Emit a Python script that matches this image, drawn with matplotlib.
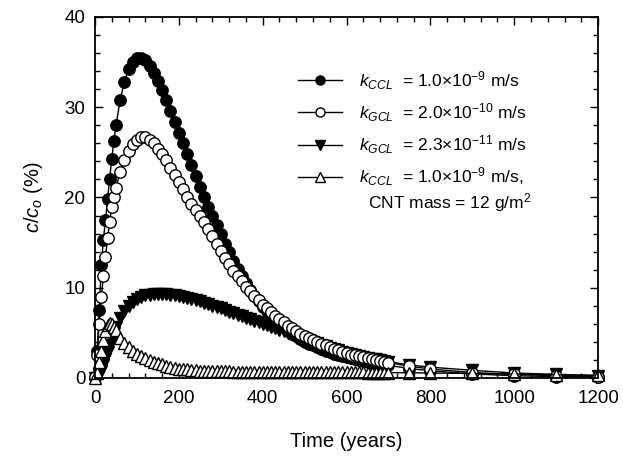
"""
Breakthrough curves c/co vs time for the three CCL/GCL cases and the CNT-amended CCL.
"""

import matplotlib
matplotlib.use("Agg")
import matplotlib.pyplot as plt
from matplotlib.ticker import MultipleLocator

plt.rcParams["font.family"] = ["Liberation Sans", "DejaVu Sans"]
plt.rcParams["mathtext.fontset"] = "custom"
plt.rcParams["mathtext.rm"] = "Liberation Sans"
plt.rcParams["mathtext.it"] = "Liberation Sans:italic"

# time (years)
time = [0, 5, 10, 15, 20, 25, 30, 35, 40, 45, 50,
        60, 70, 80, 90, 100, 110, 120, 130, 140, 150,
        160, 170, 180, 190, 200, 210, 220, 230, 240, 250,
        260, 270, 280, 290, 300, 310, 320, 330, 340, 350,
        360, 370, 380, 390, 400, 410, 420, 430, 440, 450,
        460, 470, 480, 490, 500, 510, 520, 530, 540, 550,
        560, 570, 580, 590, 600, 610, 620, 630, 640, 650,
        660, 670, 680, 690, 700, 750, 800, 900, 1000, 1100, 1200]

# k_CCL = 1.0e-9 m/s
ccl = [0.0, 3.0, 7.5, 12.5, 15.3, 17.5, 19.8, 22.1, 24.3, 26.3, 28.0,
       30.8, 32.8, 34.2, 35.0, 35.4, 35.5, 35.2, 34.6, 33.8, 32.9,
       31.9, 30.8, 29.6, 28.4, 27.2, 26.0, 24.8, 23.6, 22.4, 21.2,
       20.1, 19.0, 17.9, 16.9, 15.9, 14.9, 14.0, 13.0, 12.1, 11.3,
       10.5, 9.8, 9.1, 8.5, 7.9, 7.4, 6.9, 6.4, 6.0, 5.6,
       5.2, 4.9, 4.6, 4.3, 4.0, 3.8, 3.6, 3.4, 3.2, 3.0,
       2.85, 2.7, 2.55, 2.45, 2.35, 2.2, 2.1, 2.0, 1.9, 1.8,
       1.7, 1.6, 1.5, 1.45, 1.4, 1.05, 0.8, 0.45, 0.25, 0.15, 0.1]

# k_GCL = 2.0e-10 m/s
gcl_hi = [0.1, 2.5, 6.0, 9.0, 11.3, 13.4, 15.5, 17.3, 18.9, 20.1, 21.1,
          22.8, 24.2, 25.2, 25.9, 26.4, 26.7, 26.7, 26.4, 26.0, 25.4,
          24.8, 24.1, 23.3, 22.5, 21.7, 20.9, 20.1, 19.3, 18.6, 18.0,
          17.3, 16.5, 15.7, 14.9, 14.1, 13.3, 12.6, 11.9, 11.3, 10.7,
          10.1, 9.6, 9.1, 8.6, 8.1, 7.7, 7.3, 6.9, 6.5, 6.2,
          5.8, 5.5, 5.2, 4.9, 4.7, 4.4, 4.2, 4.0, 3.8, 3.6,
          3.4, 3.2, 3.1, 2.9, 2.8, 2.6, 2.5, 2.4, 2.3, 2.2,
          2.1, 2.0, 1.9, 1.8, 1.7, 1.3, 1.0, 0.6, 0.4, 0.25, 0.15]

# k_GCL = 2.3e-11 m/s
gcl_lo = [0.0, 0.05, 0.3, 0.8, 1.4, 2.1, 2.9, 3.6, 4.3, 5.0, 5.6,
          6.6, 7.4, 8.0, 8.4, 8.75, 9.0, 9.15, 9.25, 9.3, 9.3,
          9.3, 9.3, 9.25, 9.2, 9.1, 9.0, 8.9, 8.8, 8.65, 8.5,
          8.35, 8.2, 8.0, 7.85, 7.7, 7.5, 7.35, 7.2, 7.0, 6.85,
          6.7, 6.5, 6.35, 6.2, 6.0, 5.85, 5.7, 5.5, 5.35, 5.2,
          5.0, 4.85, 4.7, 4.5, 4.35, 4.2, 4.0, 3.85, 3.7, 3.5,
          3.35, 3.2, 3.05, 2.9, 2.8, 2.65, 2.55, 2.45, 2.35, 2.25,
          2.15, 2.05, 1.95, 1.9, 1.8, 1.45, 1.2, 0.85, 0.55, 0.4, 0.25]

# k_CCL = 1.0e-9 m/s with CNT mass = 12 g/m2
ccl_cnt = [0.0, 0.6, 1.8, 3.0, 4.2, 5.2, 5.9, 6.1, 6.0, 5.7, 5.3,
           4.4, 3.9, 3.4, 3.0, 2.7, 2.4, 2.2, 2.0, 1.8, 1.65,
           1.5, 1.35, 1.25, 1.15, 1.05, 1.0, 0.95, 0.9, 0.85, 0.8,
           0.78, 0.76, 0.75, 0.74, 0.73, 0.72, 0.72, 0.71, 0.71, 0.7,
           0.7, 0.7, 0.69, 0.69, 0.69, 0.68, 0.68, 0.68, 0.67, 0.67,
           0.67, 0.66, 0.66, 0.66, 0.65, 0.65, 0.65, 0.64, 0.64, 0.64,
           0.63, 0.63, 0.63, 0.62, 0.62, 0.62, 0.61, 0.61, 0.61, 0.6,
           0.6, 0.6, 0.6, 0.6, 0.6, 0.58, 0.55, 0.5, 0.45, 0.35, 0.3]

labels = [r"$k_{CCL}$  = 1.0×10$^{-9}$ m/s",
          r"$k_{GCL}$  = 2.0×10$^{-10}$ m/s",
          r"$k_{GCL}$  = 2.3×10$^{-11}$ m/s",
          r"$k_{CCL}$  = 1.0×10$^{-9}$ m/s,"]

fig = plt.figure(figsize=(6.23, 4.59), dpi=100)
ax = fig.add_axes([0.1525, 0.1765, 0.8075, 0.7865])

style = dict(color="black", lw=1.0, ms=8.2, mew=1.0, clip_on=False)
h3, = ax.plot(time, gcl_lo, marker="v", mfc="black", mec="black", **style)
h1, = ax.plot(time, ccl, marker="o", mfc="black", mec="black", **style)
h2, = ax.plot(time, gcl_hi, marker="o", mfc="white", mec="black", **style)
h4, = ax.plot(time, ccl_cnt, marker="^", mfc="white", mec="black", **style)

ax.set_xlim(0, 1200)
ax.set_ylim(0, 40)
ax.xaxis.set_major_locator(MultipleLocator(200))
ax.xaxis.set_minor_locator(MultipleLocator(40))
ax.yaxis.set_major_locator(MultipleLocator(10))
ax.yaxis.set_minor_locator(MultipleLocator(2))
ax.tick_params(which="both", direction="in", top=True, right=True,
               labelsize=13.5, width=1.0, pad=7)
ax.tick_params(axis="x", which="major", pad=9)
ax.tick_params(which="major", length=6)
ax.tick_params(which="minor", length=3.5)
for sp in ax.spines.values():
    sp.set_linewidth(1.3)

ax.set_xlabel("Time (years)", fontsize=14.5, labelpad=18)
ax.set_ylabel(r"$c/c_o$ (%)", fontsize=14.5, labelpad=14)

leg = ax.legend([h1, h2, h3, h4], labels, loc="upper left",
                bbox_to_anchor=(0.39, 0.875), frameon=False, fontsize=12.5,
                handlelength=2.5, handletextpad=1.0, labelspacing=0.55,
                markerscale=0.8, borderaxespad=0)
ax.text(0.705, 0.485, r"CNT mass = 12 g/m$^{2}$", transform=ax.transAxes,
        fontsize=12.5, ha="center", va="center")

fig.savefig("out.png", dpi=100)
